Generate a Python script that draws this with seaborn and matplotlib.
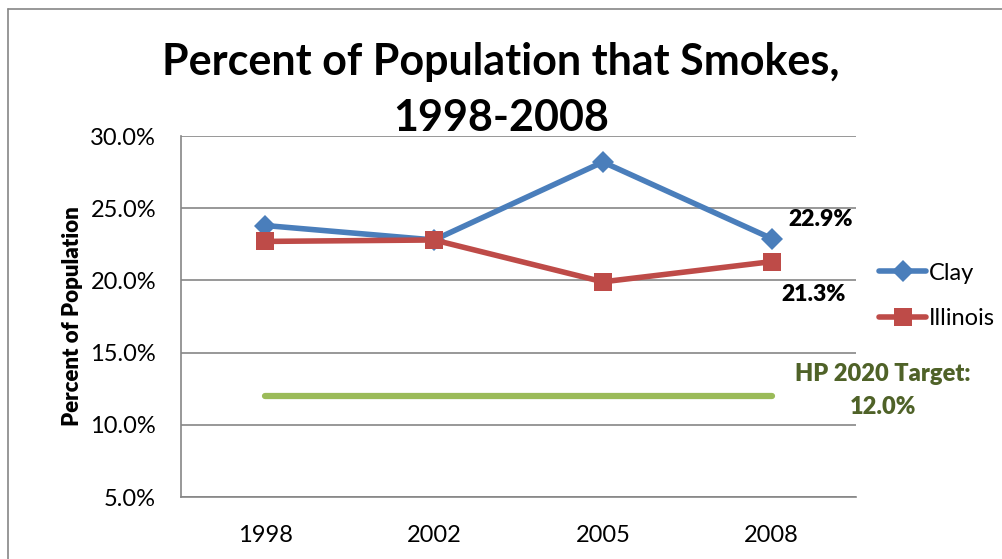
import matplotlib
matplotlib.use("Agg")
import matplotlib.pyplot as plt
import seaborn as sns
import pandas as pd
from matplotlib.lines import Line2D

years = ["1998", "2002", "2005", "2008"]
clay = [23.8, 22.8, 28.2, 22.9]
illinois = [22.7, 22.8, 19.9, 21.3]
target = 12.0

sns.set_theme(style="white")
plt.rcParams["font.family"] = ["Lato", "DejaVu Sans"]
plt.rcParams["text.color"] = "black"
plt.rcParams["axes.labelcolor"] = "black"
plt.rcParams["xtick.color"] = "black"
plt.rcParams["ytick.color"] = "black"

df = pd.DataFrame({
    "Year": years * 2,
    "Percent": clay + illinois,
    "Area": ["Clay"] * 4 + ["Illinois"] * 4,
})

fig = plt.figure(figsize=(10.02, 5.59), dpi=100)
ax = fig.add_axes([181 / 1002, 1 - 497 / 559, (856 - 181) / 1002, (497 - 136) / 559])

blue = "#4A7EBB"
red = "#BE4B48"
green = "#9BBB59"

sns.lineplot(data=df, x="Year", y="Percent", hue="Area", style="Area",
             palette={"Clay": blue, "Illinois": red},
             markers={"Clay": "D", "Illinois": "s"}, dashes=False,
             markersize=13, linewidth=4, markeredgewidth=0,
             legend=False, ax=ax, zorder=3)
# diamond markers a little smaller than the squares
for ln in ax.lines:
    if matplotlib.colors.to_hex(ln.get_color()).lower() == blue.lower():
        ln.set_markersize(11)

sns.lineplot(x=years, y=[target] * len(years), color=green, linewidth=4.5,
             ax=ax, zorder=2)

ax.set_xlim(-0.5, 3.5)
ax.set_ylim(5, 30)
ticks = [5, 10, 15, 20, 25, 30]
ax.set_yticks(ticks)
ax.set_yticklabels([f"{v:.1f}%" for v in ticks], fontsize=17)
ax.tick_params(axis="x", labelsize=17, length=0, pad=20)
ax.tick_params(axis="y", length=0, pad=18)
ax.yaxis.grid(True, color="#868686", linewidth=1.2)
ax.xaxis.grid(False)
for s in ["top", "right"]:
    ax.spines[s].set_visible(False)
for s in ["left", "bottom"]:
    ax.spines[s].set_color("#868686")
    ax.spines[s].set_linewidth(1.2)
ax.set_xlabel("")
ax.set_ylabel("Percent of Population", fontsize=16, fontweight=800, labelpad=5)

# value labels for 2008
ax.annotate(f"{clay[3]:.1f}%", (3, clay[3]), xytext=(12, 14), textcoords="offset points",
            fontsize=16.5, fontweight=800, ha="left", va="center")
ax.annotate(f"{illinois[3]:.1f}%", (3, illinois[3]), xytext=(7, -24), textcoords="offset points",
            fontsize=16.5, fontweight=800, ha="left", va="center")

ax.text(3.66, target + 0.35, f"HP 2020 Target:\n{target:.1f}%", color="#4F6228",
        fontsize=17, fontweight=800, ha="center", va="center", linespacing=1.6)

fig.suptitle("Percent of Population that Smokes,\n1998-2008", fontsize=31,
             fontweight="bold", y=0.925, va="top", linespacing=1.5, color="black")

handles = [Line2D([], [], color=blue, marker="D", markersize=11, linewidth=4, markeredgewidth=0),
           Line2D([], [], color=red, marker="s", markersize=13, linewidth=4, markeredgewidth=0)]
fig.legend(handles, ["Clay", "Illinois"], loc="center left",
           bbox_to_anchor=(858 / 1002, 1 - 296 / 559), frameon=False, fontsize=17,
           handlelength=2.0, handletextpad=0.1, labelspacing=1.05)

# chart frame
fig.add_artist(Line2D([8 / 1002, 8 / 1002], [0, 1 - 9 / 559], transform=fig.transFigure,
                      color="#868686", linewidth=1.2))
fig.add_artist(Line2D([8 / 1002, 1], [1 - 9 / 559, 1 - 9 / 559], transform=fig.transFigure,
                      color="#868686", linewidth=1.2))

fig.savefig("out.png", dpi=100)
